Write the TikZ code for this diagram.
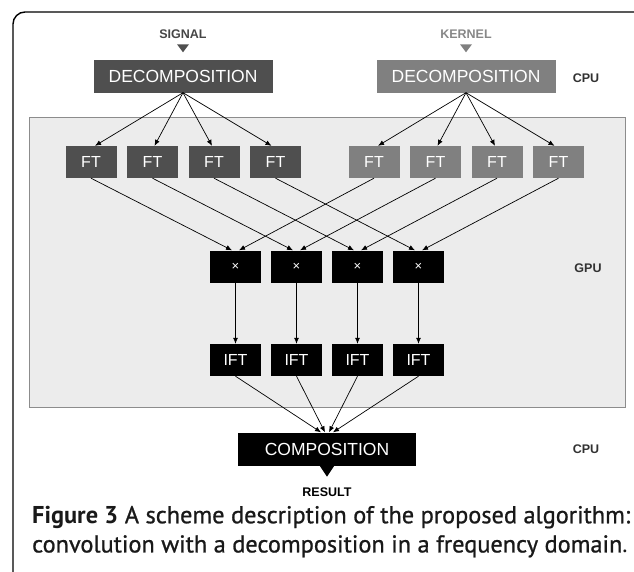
\documentclass[tikz,border=0pt]{standalone}
\usepackage{fontspec}
\setmainfont{Liberation Sans}
\newfontfamily\capfont{PT Sans}
\newfontfamily\capmed[FakeBold=0.9]{PT Sans}
\usetikzlibrary{arrows.meta,calc}
\definecolor{sigc}{RGB}{79,79,79}
\definecolor{kerc}{RGB}{128,128,128}
\definecolor{gpuc}{RGB}{236,236,236}
\definecolor{gpuline}{RGB}{140,140,140}
\definecolor{labc}{RGB}{50,50,50}
\definecolor{sigl}{RGB}{70,70,70}
\definecolor{kerl}{RGB}{135,135,135}
\definecolor{captc}{RGB}{25,25,25}
\begin{document}
\begin{tikzpicture}[x=1pt,y=-1pt,
  box/.style={inner sep=0pt, minimum height=32pt, text=white, font=\fontsize{16}{16}\selectfont},
  sig/.style={box, fill=sigc},
  ker/.style={box, fill=kerc},
  blk/.style={box, fill=black},
  small/.style={minimum width=51pt},
  big/.style={minimum width=179pt, minimum height=33pt, font=\fontsize{17.5}{17.5}\selectfont},
  lab/.style={font=\bfseries\fontsize{12.5}{13}\selectfont, text=labc},
  arr/.style={-{Latex[length=6pt,width=5pt]}, line width=0.7pt},
]
\useasboundingbox (0,0) rectangle (634,571);
\begin{scope}
  \clip (0,0) rectangle (634,571);
  \draw[line width=1.4pt, rounded corners=12pt] (13,12) rectangle (650,590);
\end{scope}
\draw[fill=gpuc, draw=gpuline, line width=0.8pt] (29,117) rectangle (625,407);

% top
\node[lab, text=sigl] (signal) at (183,34) {SIGNAL};
\node[lab, text=kerl] (kernel) at (466,34) {KERNEL};
\node[sig,big] (sdec) at (183,76) {DECOMPOSITION};
\node[ker,big] (kdec) at (466,76) {DECOMPOSITION};
\node[lab] (cpu1) at (586,78) {CPU};
\fill[sigc] ($(sdec.north)+(-6,-15)$) -- ($(sdec.north)+(6,-15)$) -- ($(sdec.north)+(0,-7)$) -- cycle;
\fill[kerc] ($(kdec.north)+(-6,-15)$) -- ($(kdec.north)+(6,-15)$) -- ($(kdec.north)+(0,-7)$) -- cycle;

% FT rows
\foreach \i/\x in {1/91,2/152.5,3/214,4/275.5}
  \node[sig,small] (s\i) at (\x,162) {FT};
\foreach \i/\x in {1/374,2/435.5,3/497,4/558.5}
  \node[ker,small] (k\i) at (\x,162) {FT};

% multiply and IFT rows
\foreach \i/\x in {1/235.5,2/296.5,3/357.5,4/418.5}{
  \node[blk,small,font=\fontsize{13}{13}\selectfont] (m\i) at (\x,266.5) {×};
  \node[blk,small] (f\i) at (\x,360) {IFT};
}
\node[lab] (gpu) at (588,268) {GPU};

% bottom
\node[blk, minimum width=178pt, minimum height=33pt, font=\fontsize{17.5}{17.5}\selectfont] (comp) at (327,449) {COMPOSITION};
\fill[black] ($(comp.south)+(-8,-1)$) -- ($(comp.south)+(8,-1)$) -- ($(comp.south)+(0,11)$) -- cycle;
\node[lab] (cpu2) at (586,449) {CPU};
\node[lab, text=black] (result) at (327,492) {RESULT};

% arrows decomposition -> FT
\foreach \i/\d in {1/4,2/2,3/-2,4/-4}{
  \draw[arr] (sdec.south) -- ($(s\i.north)+(\d,0)$);
  \draw[arr] (kdec.south) -- ($(k\i.north)+(\d,0)$);
}
% FT -> multiply
\foreach \i in {1,2,3,4}{
  \draw[arr] (s\i.south) -- ($(m\i.north)+(-3.5,0)$);
  \draw[arr] (k\i.south) -- ($(m\i.north)+(3.5,0)$);
  \draw[arr] (m\i.south) -- (f\i.north);
}
% IFT -> composition
\foreach \i/\d in {1/-6,2/-2,3/2,4/6}
  \draw[arr] (f\i.south) -- ($(comp.north)+(\d,0)$);

% caption
\node[anchor=west, inner sep=0pt, text=captc] (caption) at (32,532) {\resizebox{598pt}{!}{%
  \begin{tabular}{@{}l@{}}
  {\capfont\bfseries Figure 3} {\capmed A scheme description of the proposed algorithm:}\\
  {\capmed convolution with a decomposition in a frequency domain}{\capfont.}
  \end{tabular}}};
\end{tikzpicture}
\end{document}
